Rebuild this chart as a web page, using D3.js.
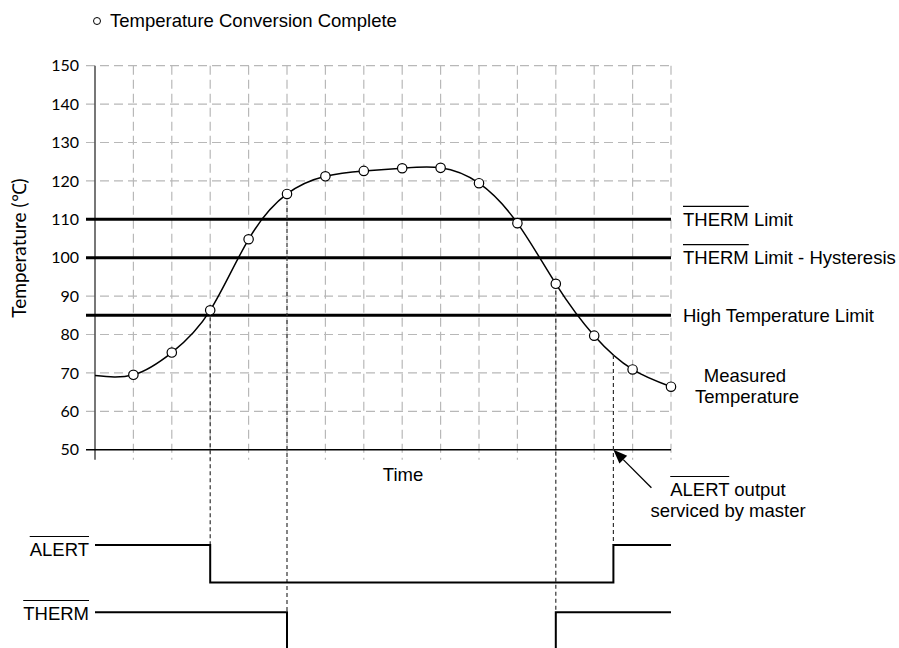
<!DOCTYPE html>
<html lang="en">
<head>
<meta charset="UTF-8" />
<title>Temperature alert timing</title>
<script src="https://d3js.org/d3.v7.min.js"></script>
<style>
  body { margin: 0; background: #fff; }
  svg { display: block; }
  text { font-family: "Liberation Sans", Arial, sans-serif; font-size: 18.5px; fill: #000; }
  .tick-label, .y-title { font-family: Lato, "Open Sans", sans-serif; }
</style>
</head>
<body>
<svg width="899" height="648"></svg>
<script>
// data
var sampleTimes = [1, 2, 3, 4, 5, 6, 7, 8, 9, 10, 11, 12, 13, 14, 15];
var measuredTemps = [69.5, 75.3, 86.3, 104.8, 116.6, 121.2, 122.6, 123.3, 123.4, 119.4, 109, 93.2, 79.7, 70.9, 66.4];
var startTime = 0;
var startTemp = 69.3;
var yTicks = [50, 60, 70, 80, 90, 100, 110, 120, 130, 140, 150];
var limitValues = [110, 100, 85];
var limitOverlines = ["THERM", "THERM", ""];
var limitLabels = [" Limit", " Limit - Hysteresis", "High Temperature Limit"];
var alertTimes = [0, 3, 13.5, 15];
var alertLevels = [1, 0, 1, 1];
var thermTimes = [0, 5, 12, 15];
var thermLevels = [1, 0, 1, 1];
var serviceTime = 13.5;
var connectorTimes = [3, 5, 12, 13.5];
var connectorRows = ["alert", "therm", "therm", "alert"];

var svg = d3.select("svg"),
  plotLeft = 95, plotRight = 671, plotTop = 65.7, plotBottom = 449.7;

var x = d3.scaleLinear().domain([0, 15]).range([plotLeft, plotRight]);
var y = d3.scaleLinear().domain([50, 150]).range([plotBottom, plotTop]);

var rowTop = { alert: 545, therm: 612.3 };
var rowDrop = 37.5;

// grid
var grid = svg.append("g")
  .attr("stroke", "#b8b8b8")
  .attr("stroke-width", 1.2)
  .attr("stroke-dasharray", "9,5");

grid.selectAll("line.h")
  .data(yTicks.filter(function (d) { return d > 50; }))
  .enter().append("line")
  .attr("class", "h")
  .attr("x1", plotLeft - 9).attr("x2", plotRight)
  .attr("y1", function (d) { return y(d); })
  .attr("y2", function (d) { return y(d); });

grid.selectAll("line.v")
  .data(sampleTimes)
  .enter().append("line")
  .attr("class", "v")
  .attr("x1", function (d) { return x(d); })
  .attr("x2", function (d) { return x(d); })
  .attr("y1", plotTop).attr("y2", plotBottom + 10);

// axes
svg.append("line")
  .attr("x1", plotLeft).attr("x2", plotLeft)
  .attr("y1", plotTop).attr("y2", plotBottom + 10)
  .attr("stroke", "#555").attr("stroke-width", 1.6);

svg.append("line")
  .attr("x1", plotLeft - 9).attr("x2", plotRight)
  .attr("y1", y(50)).attr("y2", y(50))
  .attr("stroke", "#000").attr("stroke-width", 1.5);

svg.append("g").selectAll("text")
  .data(yTicks)
  .enter().append("text")
  .attr("class", "tick-label")
  .attr("x", 79)
  .attr("y", function (d) { return y(d); })
  .attr("dy", "0.36em")
  .attr("text-anchor", "end")
  .style("font-size", "16px")
  .text(function (d) { return d; });

svg.append("text")
  .attr("class", "y-title")
  .attr("transform", "translate(26,248) rotate(-90)")
  .attr("text-anchor", "middle")
  .style("font-size", "19px")
  .text("Temperature (℃)");

svg.append("text")
  .attr("x", (plotLeft + plotRight) / 2 + 20)
  .attr("y", 481)
  .attr("text-anchor", "middle")
  .text("Time");

// legend
svg.append("circle")
  .attr("cx", 97).attr("cy", 21).attr("r", 3.5)
  .attr("fill", "#fff").attr("stroke", "#000").attr("stroke-width", 1);
svg.append("text").attr("x", 110).attr("y", 27).text("Temperature Conversion Complete");

// text with a bar over the first part
function overText(parent, px, py, over, rest, anchor) {
  var t = parent.append("text")
    .attr("x", px).attr("y", py)
    .attr("text-anchor", anchor || "start");
  if (over) t.append("tspan").text(over);
  if (rest) t.append("tspan").text(rest);
  if (over) {
    var node = t.node();
    var x0 = node.getStartPositionOfChar(0).x;
    var w = node.getSubStringLength(0, over.length);
    parent.append("line")
      .attr("x1", x0).attr("x2", x0 + w)
      .attr("y1", py - 19.5).attr("y2", py - 19.5)
      .attr("stroke", "#000").attr("stroke-width", 1.2);
  }
}

// limit lines
svg.append("g").selectAll("line")
  .data(limitValues)
  .enter().append("line")
  .attr("x1", plotLeft - 9).attr("x2", plotRight)
  .attr("y1", function (d) { return y(d); })
  .attr("y2", function (d) { return y(d); })
  .attr("stroke", "#000").attr("stroke-width", 3);

limitValues.forEach(function (v, i) {
  overText(svg, 683, y(v) + 6.5, limitOverlines[i], limitLabels[i]);
});

// measured curve
var pts = [[startTime, startTemp]].concat(d3.zip(sampleTimes, measuredTemps));
var curve = svg.append("path")
  .datum(pts)
  .attr("fill", "none")
  .attr("stroke", "#000")
  .attr("stroke-width", 1.5)
  .attr("d", d3.line()
    .x(function (d) { return x(d[0]); })
    .y(function (d) { return y(d[1]); })
    .curve(d3.curveNatural));

function curveYAt(node, px) {
  var lo = 0, hi = node.getTotalLength();
  for (var i = 0; i < 40; i++) {
    var mid = (lo + hi) / 2;
    if (node.getPointAtLength(mid).x < px) lo = mid; else hi = mid;
  }
  return node.getPointAtLength(lo).y;
}

// dashed connectors to the timing rows
svg.append("g").selectAll("line")
  .data(connectorTimes)
  .enter().append("line")
  .attr("x1", function (d) { return x(d); })
  .attr("x2", function (d) { return x(d); })
  .attr("y1", function (d) { return curveYAt(curve.node(), x(d)); })
  .attr("y2", function (d, i) { return rowTop[connectorRows[i]]; })
  .attr("stroke", "#333")
  .attr("stroke-width", 1.2)
  .attr("stroke-dasharray", "4,3");

svg.append("g").selectAll("circle")
  .data(d3.zip(sampleTimes, measuredTemps))
  .enter().append("circle")
  .attr("cx", function (d) { return x(d[0]); })
  .attr("cy", function (d) { return y(d[1]); })
  .attr("r", 4.7)
  .attr("fill", "#fff")
  .attr("stroke", "#000")
  .attr("stroke-width", 1.2);

svg.append("text").attr("x", 745).attr("y", 382).attr("text-anchor", "middle").text("Measured");
svg.append("text").attr("x", 747).attr("y", 403).attr("text-anchor", "middle").text("Temperature");

// arrow to the service point
var tip = [x(serviceTime), y(50)], tail = [tip[0] + 38, tip[1] + 38];
var dx = tip[0] - tail[0], dy = tip[1] - tail[1], len = Math.sqrt(dx * dx + dy * dy);
var ux = dx / len, uy = dy / len, hl = 14, hw = 5.5;
svg.append("line")
  .attr("x1", tail[0]).attr("y1", tail[1])
  .attr("x2", tip[0] - ux * hl).attr("y2", tip[1] - uy * hl)
  .attr("stroke", "#000").attr("stroke-width", 1.3);
svg.append("polygon")
  .attr("points", [
    tip,
    [tip[0] - ux * hl - uy * hw, tip[1] - uy * hl + ux * hw],
    [tip[0] - ux * hl + uy * hw, tip[1] - uy * hl - ux * hw]
  ].join(" "))
  .attr("fill", "#000");

overText(svg, 728, 496, "ALERT", " output", "middle");
svg.append("text").attr("x", 728).attr("y", 517).attr("text-anchor", "middle").text("serviced by master");

// timing rows
function drawRow(name, times, levels, labelY) {
  var lv = d3.scaleLinear().domain([0, 1]).range([rowTop[name] + rowDrop, rowTop[name]]);
  svg.append("path")
    .datum(d3.zip(times, levels))
    .attr("fill", "none")
    .attr("stroke", "#000")
    .attr("stroke-width", 2)
    .attr("d", d3.line()
      .x(function (d) { return x(d[0]); })
      .y(function (d) { return lv(d[1]); })
      .curve(d3.curveStepAfter));
  overText(svg, 89, labelY, name.toUpperCase(), "", "end");
}
drawRow("alert", alertTimes, alertLevels, 556);
drawRow("therm", thermTimes, thermLevels, 620);
</script>
</body>
</html>
